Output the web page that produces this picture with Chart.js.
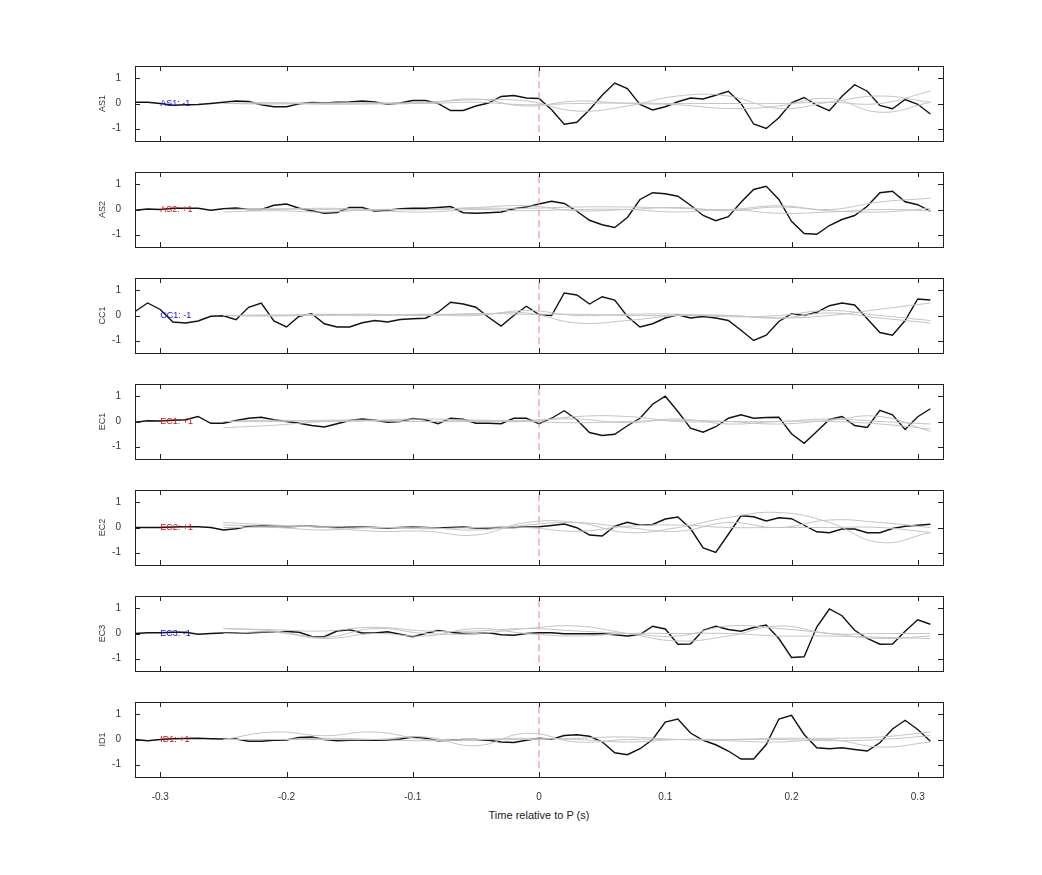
<!DOCTYPE html>
<html>
<head>
<meta charset="utf-8">
<script src="https://cdn.jsdelivr.net/npm/chart.js@4/dist/chart.umd.min.js"></script>
<style>
  body { margin:0; background:#fff; width:1042px; height:875px; position:relative; font-family:"Liberation Sans", Arial, sans-serif; }
  canvas { position:absolute; left:0; }
  #xtitle { position:absolute; top:809px; left:0; width:1078px; text-align:center; font-size:11px; color:#222; }
</style>
</head>
<body>
<div id="xtitle">Time relative to P (s)</div>
<script>
// sample times of the black traces (s)
const times = [-0.32,-0.31,-0.30,-0.29,-0.28,-0.27,-0.26,-0.25,-0.24,-0.23,-0.22,-0.21,-0.20,-0.19,-0.18,-0.17,
  -0.16,-0.15,-0.14,-0.13,-0.12,-0.11,-0.10,-0.09,-0.08,-0.07,-0.06,-0.05,-0.04,-0.03,-0.02,-0.01,
  0.00,0.01,0.02,0.03,0.04,0.05,0.06,0.07,0.08,0.09,0.10,0.11,0.12,0.13,0.14,0.15,
  0.16,0.17,0.18,0.19,0.20,0.21,0.22,0.23,0.24,0.25,0.26,0.27,0.28,0.29,0.30,0.31];
// sample times of the grey reference traces
const greyTimes = [-0.25,-0.21,-0.17,-0.13,-0.09,-0.05,-0.01,0.03,0.07,0.11,0.15,0.19,0.23,0.27,0.31];

const channels = ['AS1','AS2','CC1','EC1','EC2','EC3','ID1'];
const polarity = [-1, 1, -1, 1, 1, -1, 1];
const xTicks = [-0.3,-0.2,-0.1,0,0.1,0.2,0.3];
const yTicks = [-1,0,1];

const traceAS1 = [0.05,0.05,0.0,-0.07,-0.05,-0.04,0.0,0.05,0.1,0.08,-0.05,-0.13,-0.13,-0.01,0.04,0.02,0.05,0.06,0.1,0.06,-0.03,0.02,0.12,0.12,0.0,-0.28,-0.28,-0.1,0.02,0.28,0.32,0.22,
  0.2,-0.25,-0.83,-0.75,-0.25,0.33,0.82,0.6,-0.04,-0.26,-0.13,0.07,0.22,0.18,0.33,0.49,0,-0.82,-1.0,-0.57,0.03,0.24,-0.07,-0.29,0.29,0.75,0.49,-0.08,-0.21,0.16,-0.03,-0.42];
const traceAS2 = [-0.03,0.02,0.0,0.05,0.05,0.05,-0.03,0.03,0.06,0.0,0.0,0.17,0.22,0.05,-0.05,-0.15,-0.12,0.08,0.08,-0.07,-0.03,0.03,0.05,0.05,0.08,0.12,-0.13,-0.15,-0.13,-0.1,0.03,0.1,
  0.22,0.33,0.24,-0.07,-0.43,-0.61,-0.72,-0.32,0.4,0.67,0.63,0.53,0.17,-0.24,-0.45,-0.29,0.29,0.8,0.93,0.4,-0.47,-0.96,-0.99,-0.64,-0.4,-0.24,0.13,0.67,0.73,0.31,0.19,-0.07];
const traceCC1 = [0.16,0.5,0.24,-0.26,-0.3,-0.22,-0.03,-0.01,-0.17,0.33,0.5,-0.22,-0.46,-0.03,0.07,-0.33,-0.46,-0.46,-0.29,-0.2,-0.26,-0.16,-0.13,-0.11,0.13,0.53,0.46,0.33,-0.07,-0.42,0,0.37,
  0.04,0.0,0.9,0.82,0.46,0.75,0.62,-0.04,-0.46,-0.33,-0.1,0.03,-0.1,-0.04,-0.1,-0.2,-0.59,-1.0,-0.79,-0.24,0.07,0,0.13,0.39,0.5,0.42,-0.13,-0.68,-0.79,-0.2,0.66,0.62];
const traceEC1 = [-0.03,0.03,0.02,0.05,0.07,0.2,-0.07,-0.07,0.04,0.13,0.17,0.07,0,-0.07,-0.16,-0.22,-0.09,0.04,0.1,0.05,-0.03,0,0.12,0.07,-0.09,0.13,0.09,-0.07,-0.07,-0.09,0.13,0.13,
  -0.09,0.13,0.43,0.07,-0.44,-0.56,-0.51,-0.17,0.13,0.69,1.01,0.4,-0.27,-0.43,-0.21,0.13,0.27,0.13,0.16,0.17,-0.49,-0.87,-0.4,0.08,0.2,-0.16,-0.24,0.45,0.27,-0.32,0.19,0.51];
const traceEC2 = [0,0,0,0.02,0.03,0.03,0,-0.1,-0.05,0.05,0.07,0.05,0.03,0.05,0.05,0.02,0.02,0.03,0.02,0.0,-0.02,0.0,0.02,0.0,-0.02,0.0,0.02,-0.02,-0.02,0,0,0.02,
  0.03,0.08,0.14,-0.01,-0.3,-0.34,0.05,0.21,0.09,0.12,0.34,0.42,-0.04,-0.82,-1.0,-0.27,0.47,0.43,0.26,0.39,0.35,0.09,-0.17,-0.21,-0.06,-0.06,-0.21,-0.21,-0.04,0.05,0.09,0.13];
const traceEC3 = [0,0.03,0.03,0.05,0.05,-0.03,0.0,0.02,0.03,0.02,0.05,0.05,0.08,0.05,-0.12,-0.13,0.1,0.15,0.02,0.02,0.07,-0.03,-0.13,0.0,0.12,0.05,0.0,0.0,0.03,-0.05,-0.07,0.0,
  0.03,0.03,-0.01,-0.01,-0.01,-0.01,-0.05,-0.1,-0.04,0.29,0.18,-0.43,-0.42,0.13,0.29,0.16,0.09,0.24,0.34,-0.2,-0.96,-0.93,0.26,0.98,0.71,0.13,-0.2,-0.43,-0.42,0.09,0.55,0.37];
const traceID1 = [0.0,-0.05,0.0,0.03,0.04,0.05,0.03,0.02,0.02,-0.07,-0.07,-0.03,-0.02,0.08,0.1,0.0,-0.05,-0.03,-0.03,-0.02,-0.03,0.02,0.1,0.05,-0.05,-0.03,0.0,0.0,-0.03,-0.1,-0.12,-0.03,
  0.05,0.01,0.16,0.19,0.13,-0.09,-0.53,-0.61,-0.37,0,0.7,0.82,0.26,-0.03,-0.21,-0.46,-0.78,-0.78,-0.2,0.82,0.97,0.2,-0.33,-0.37,-0.33,-0.4,-0.46,-0.13,0.42,0.77,0.4,-0.07];
const traces = [traceAS1, traceAS2, traceCC1, traceEC1, traceEC2, traceEC3, traceID1];

// grey reference traces, three per channel
const greyAS1 = [[0.0,0.02,-0.03,0.0,0.05,0.15,0.1,-0.3,-0.1,0.3,0.3,-0.2,0.05,0.3,0.05],
  [0.0,-0.02,0.02,0.03,0.0,0.05,-0.05,0.0,0.02,0.0,0.0,0.0,0.05,0.0,0.5],
  [0.0,0.03,0.0,-0.02,0.02,0.18,-0.1,0.1,0.0,-0.05,-0.2,-0.1,0.2,-0.35,0.05]];
const greyAS2 = [[-0.1,-0.05,-0.1,0.0,0.0,0.05,0.05,0.1,0.1,0.05,0.0,0.15,0.0,0.3,0.45],
  [0.0,0.03,0.0,-0.05,-0.1,0.0,-0.05,0.0,0.0,-0.1,0.0,-0.15,-0.1,0.0,-0.05],
  [0.0,0.0,0.05,0.0,0.0,0.08,0.15,-0.05,0.0,0.08,-0.05,0.1,-0.05,-0.1,0.05]];
const greyCC1 = [[0.0,0.0,0.05,0.02,0.05,0.05,0.1,-0.3,-0.2,0.0,0.0,-0.1,0.0,0.25,0.5],
  [0.0,0.02,0.0,0.0,0.03,0.0,0.2,0.0,0.05,0.05,-0.05,0.0,0.2,0.0,-0.2],
  [0.0,-0.02,0.03,0.05,0.0,0.08,0.05,0.05,0.0,0.0,0.0,-0.1,0.1,-0.1,-0.3]];
const greyEC1 = [[-0.25,-0.15,0.0,0.05,0.1,0.05,0.0,0.2,0.2,0.0,0.0,0.0,0.1,0.0,-0.1],
  [0.0,0.0,0.05,0.05,0.0,0.0,0.05,0.1,-0.05,0.1,-0.1,0.0,0.0,-0.1,-0.3],
  [0.0,0.05,0.0,0.02,0.0,0.05,0.0,-0.05,0.0,0.05,0.0,-0.1,0.05,0.2,-0.4]];
const greyEC2 = [[0.2,0.1,0.0,-0.15,-0.15,-0.3,0.2,0.2,-0.2,0.0,0.4,0.6,0.2,-0.6,-0.2],
  [0.1,0.05,0.05,0.0,0.0,-0.1,0.1,0.2,0.0,-0.15,0.2,0.0,0.3,0.2,0.0],
  [0.0,0.0,-0.1,0.0,-0.05,0.0,0.0,-0.15,0.05,0.1,0.0,0.0,0.0,0.0,-0.2]];
const greyEC3 = [[0.2,0.15,0.1,0.25,0.1,0.1,0.2,0.1,0.0,-0.1,0.3,0.2,0.0,-0.2,-0.1],
  [0.2,0.1,-0.15,0.2,0.0,0.0,0.2,0.3,0.0,-0.3,-0.1,0.3,0.0,0.0,0.0],
  [0.0,0.05,-0.2,0.0,-0.1,0.2,0.0,-0.1,0.0,0.0,0.0,-0.1,-0.1,-0.15,-0.2]];
const greyID1 = [[0.0,0.3,0.15,0.3,0.0,0.0,0.0,0.05,0.1,0.0,0.0,0.05,0.05,0.1,0.3],
  [0.0,0.0,0.0,0.0,0.1,-0.25,0.25,-0.1,0.0,0.0,-0.05,-0.1,0.0,-0.3,-0.1],
  [0.0,0.0,0.05,0.0,-0.05,0.0,0.05,0.0,-0.1,0.0,0.0,0.0,-0.05,0.0,0.15]];
const greys = [greyAS1, greyAS2, greyCC1, greyEC1, greyEC2, greyEC3, greyID1];

const TOP0 = 66, STEP = 106, AREA_H = 75;

// inward ticks on all four sides, frame, channel tag
const framePlugin = {
  id: 'frame',
  afterDraw(chart, args, opts) {
    const { ctx, chartArea: a, scales: { x, y } } = chart;
    ctx.save();
    ctx.strokeStyle = '#222';
    ctx.lineWidth = 1;
    ctx.strokeRect(a.left + 0.5, a.top + 0.5, a.right - a.left, a.bottom - a.top);
    ctx.beginPath();
    xTicks.forEach(v => {
      const px = Math.round(x.getPixelForValue(v)) + 0.5;
      ctx.moveTo(px, a.top); ctx.lineTo(px, a.top + 5);
      ctx.moveTo(px, a.bottom); ctx.lineTo(px, a.bottom - 5);
    });
    yTicks.forEach(v => {
      const py = Math.round(y.getPixelForValue(v)) + 0.5;
      ctx.moveTo(a.left, py); ctx.lineTo(a.left + 5, py);
      ctx.moveTo(a.right, py); ctx.lineTo(a.right - 5, py);
    });
    ctx.stroke();
    ctx.font = '9px "Liberation Sans", Arial, sans-serif';
    ctx.fillStyle = opts.pol < 0 ? '#1010e0' : '#e01010';
    ctx.textBaseline = 'middle';
    ctx.fillText(opts.name + ': ' + (opts.pol < 0 ? '-1' : '+1'), x.getPixelForValue(-0.3), y.getPixelForValue(0));
    ctx.restore();
  }
};

function makePanel(i, h) {
  const name = channels[i];
  const last = i === channels.length - 1;
  const cv = document.createElement('canvas');
  cv.width = 1042; cv.height = h;
  cv.style.width = '1042px'; cv.style.height = h + 'px';
  document.body.appendChild(cv);

  const datasets = greys[i].map(g => ({
    data: greyTimes.map((t, k) => ({ x: t, y: g[k] })),
    borderColor: '#c4c4c4', borderWidth: 1, pointRadius: 0, tension: 0.45
  }));
  datasets.push({
    data: [{ x: 0, y: -1.15 }, { x: 0, y: 1.5 }],
    borderColor: '#f08080', borderWidth: 1, borderDash: [7, 4], pointRadius: 0
  });
  datasets.push({
    data: times.map((t, k) => ({ x: t, y: traces[i][k] })),
    borderColor: '#111', borderWidth: 1.4, pointRadius: 0, tension: 0
  });

  const chart = new Chart(cv, {
    type: 'line',
    data: { datasets },
    options: {
      responsive: false, animation: false, events: [], devicePixelRatio: 1,
      layout: { padding: { top: 0, right: 99, left: 95, bottom: 0 } },
      plugins: { legend: { display: false }, tooltip: { enabled: false },
        frame: { name, pol: polarity[i] } },
      scales: {
        x: {
          type: 'linear', min: -0.32, max: 0.32,
          grid: { display: false }, border: { display: false },
          afterBuildTicks: s => { s.ticks = xTicks.map(v => ({ value: v })); },
          afterFit: s => { s.height = last ? 24 : 4; },
          ticks: { display: last, color: '#333', font: { size: 10 }, padding: 6, maxRotation: 0,
            callback: v => (v === 0 ? '0' : String(Math.round(v * 10) / 10)) }
        },
        y: {
          min: -1.5, max: 1.5,
          grid: { display: false }, border: { display: false },
          afterBuildTicks: s => { s.ticks = yTicks.map(v => ({ value: v })); },
          afterFit: s => { s.width = 40; },
          ticks: { color: '#333', font: { size: 10 }, padding: 6 },
          title: { display: true, text: name, color: '#333', font: { size: 9 }, padding: 2 }
        }
      }
    },
    plugins: [framePlugin]
  });
  return { cv, chart };
}

channels.forEach((name, i) => {
  const last = i === channels.length - 1;
  let h = AREA_H + (last ? 40 : 20);
  let p = makePanel(i, h);
  const diff = AREA_H - (p.chart.chartArea.bottom - p.chart.chartArea.top);
  if (diff !== 0) {
    // rebuild with a canvas tall enough for an exact AREA_H plot
    p.chart.destroy(); p.cv.remove();
    p = makePanel(i, h + diff);
  }
  p.cv.style.top = (TOP0 + STEP * i - p.chart.chartArea.top) + 'px';
});
</script>
</body>
</html>
